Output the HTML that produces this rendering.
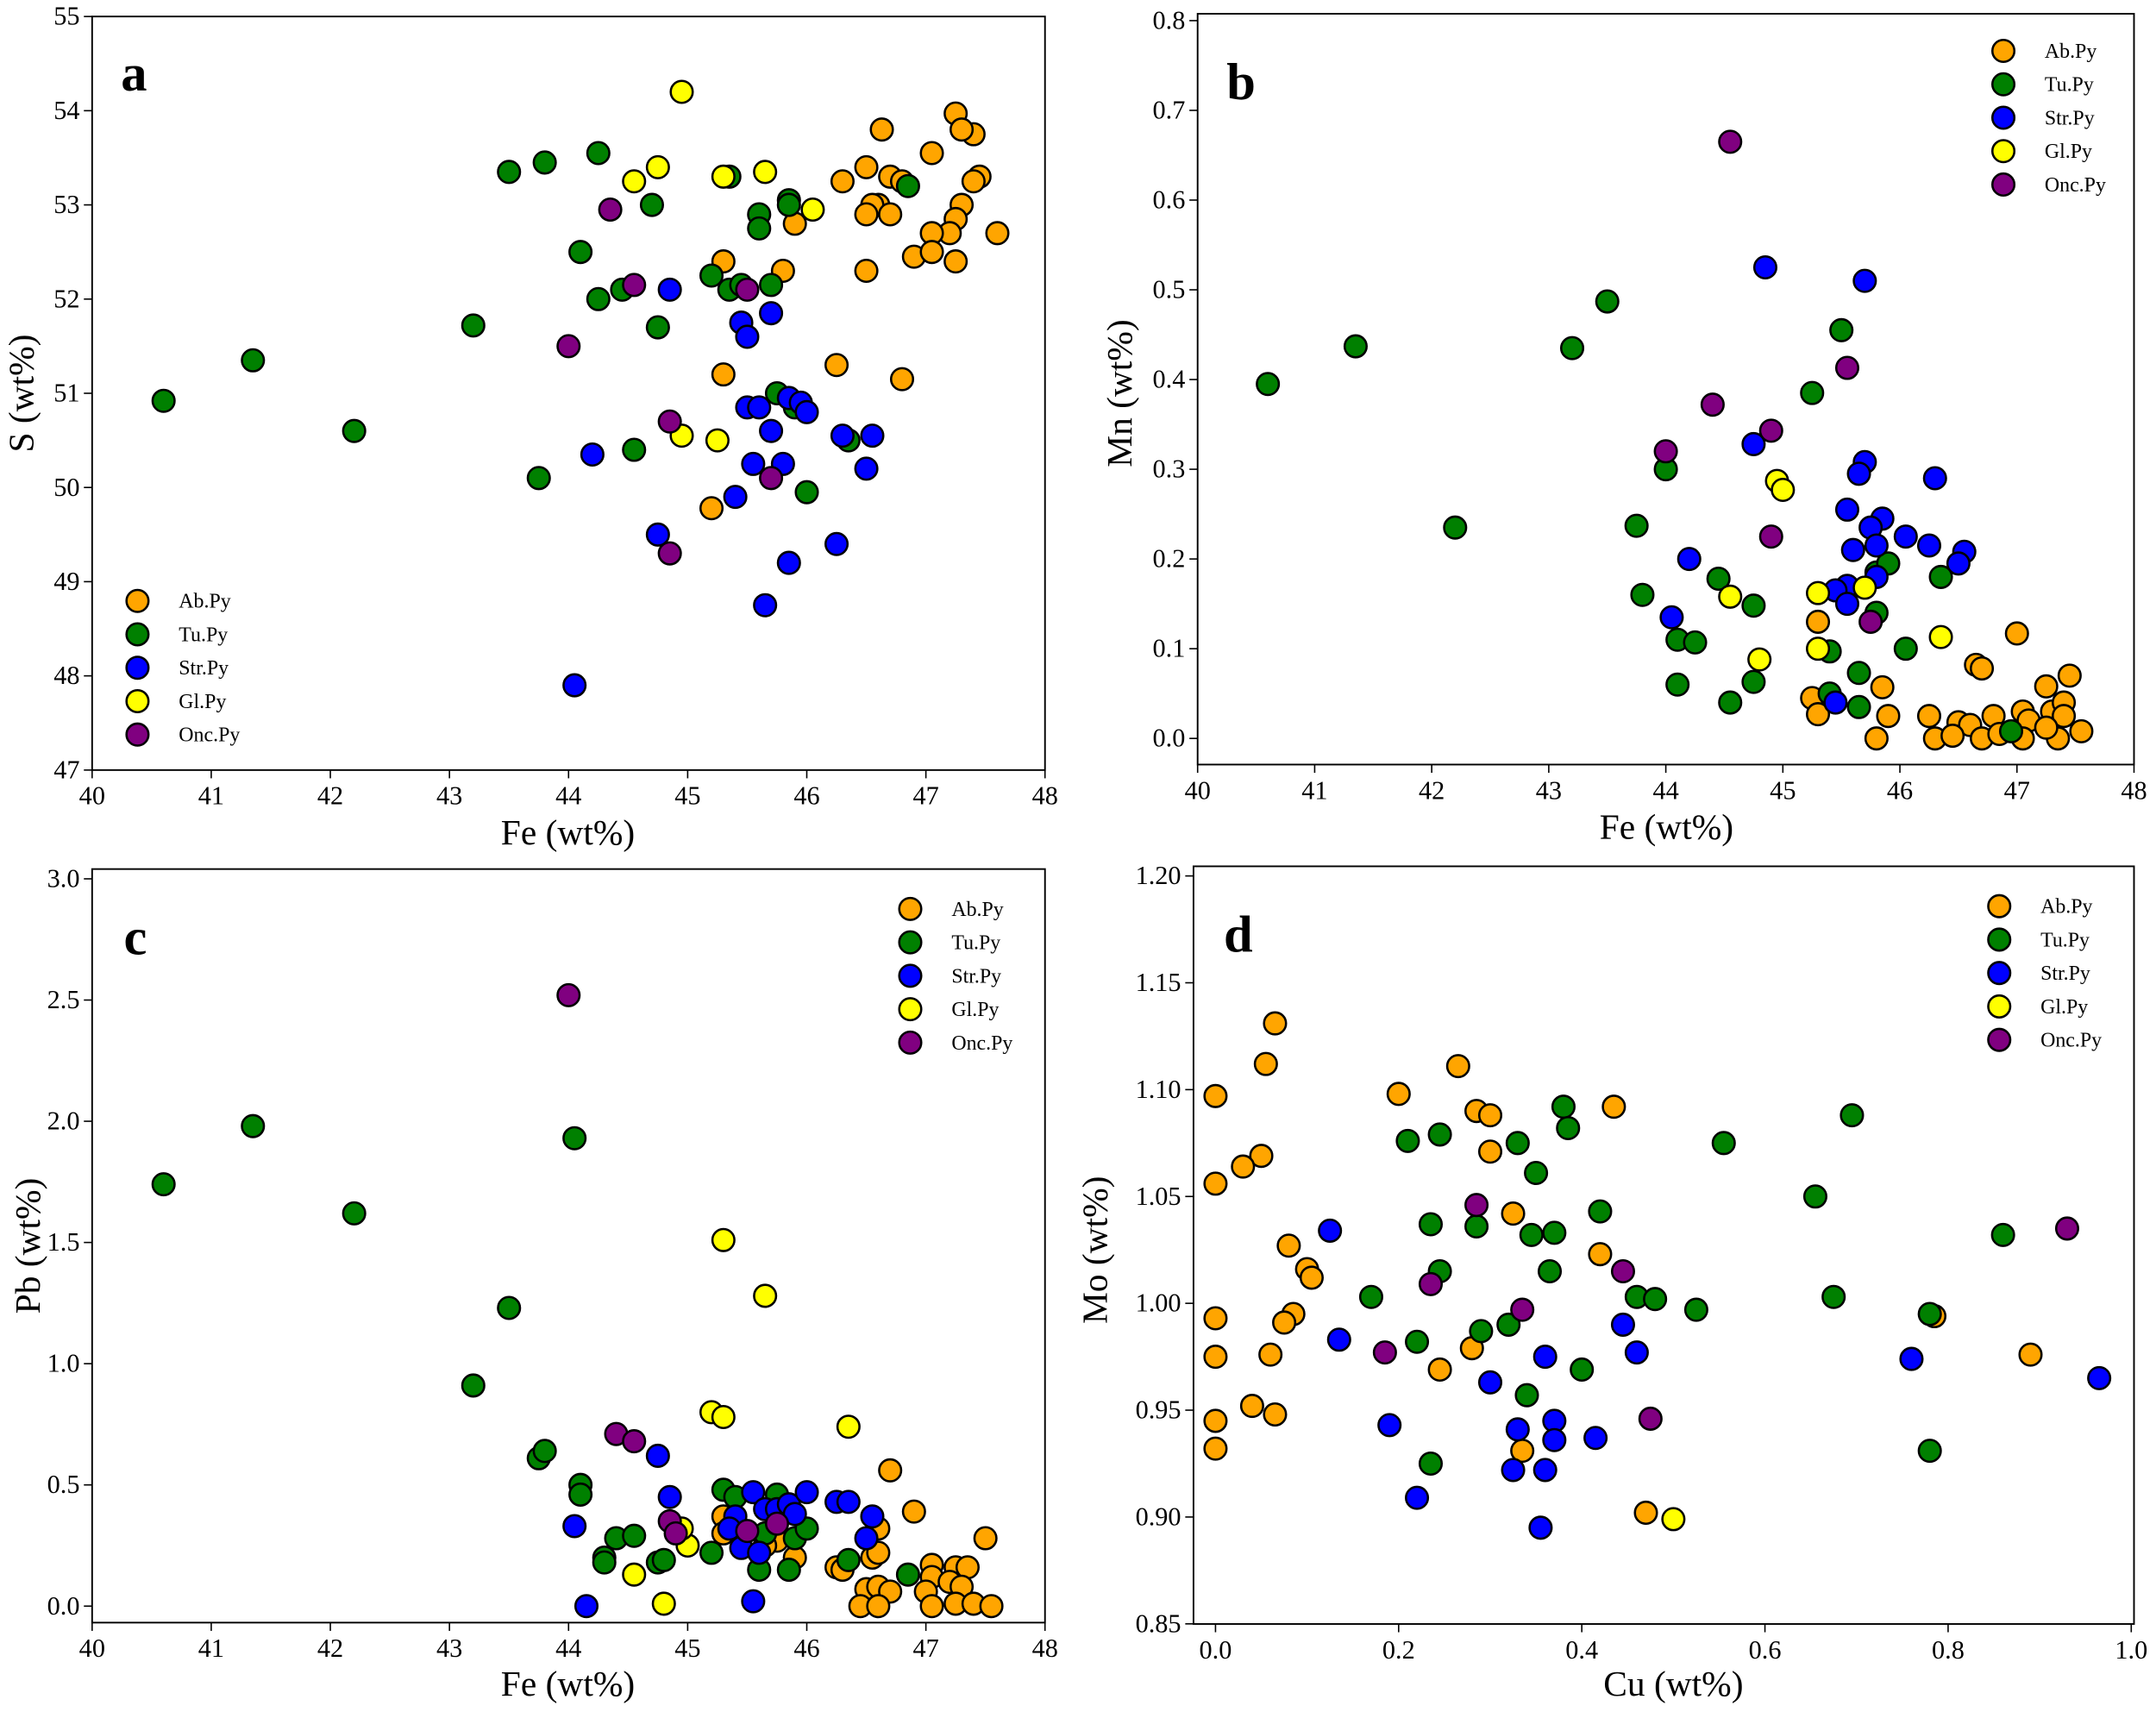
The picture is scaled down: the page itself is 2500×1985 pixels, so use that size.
<!DOCTYPE html>
<html><head><meta charset="utf-8">
<style>
html,body{margin:0;padding:0;background:#fff;}
svg{display:block;}
svg text{font-family:"Liberation Serif","DejaVu Serif",serif;fill:#000;}
</style></head>
<body>
<svg id="chart" width="2500" height="1985" viewBox="0 0 1568 1245" preserveAspectRatio="none" font-family="'Liberation Serif','DejaVu Serif',serif" xmlns="http://www.w3.org/2000/svg"></svg>
<script>
// ---- data ----
const seriesNames = ["Ab.Py","Tu.Py","Str.Py","Gl.Py","Onc.Py"];
const seriesColors = ["#FFA500","#008000","#0000FF","#FFFF00","#800080"];

const aAb = [[47.25,53.97],[46.63,53.8],[47.4,53.75],[47.05,53.55],[47.3,53.8],[46.5,53.4],[46.7,53.3],[46.8,53.25],[47.45,53.3],[47.4,53.25],[46.3,53.25],[46.6,53.0],[46.55,53.0],[46.7,52.9],[46.5,52.9],[47.3,53.0],[47.25,52.85],[47.2,52.7],[47.05,52.7],[47.6,52.7],[46.9,52.45],[47.05,52.5],[47.25,52.4],[45.9,52.8],[45.3,52.4],[45.8,52.3],[46.5,52.3],[46.25,51.3],[45.3,51.2],[46.8,51.15],[45.2,49.78]];
const aTu = [[40.6,50.92],[41.35,51.35],[42.2,50.6],[43.2,51.72],[43.5,53.35],[43.8,53.45],[44.25,53.55],[44.7,53.0],[44.1,52.5],[44.25,52.0],[44.45,52.1],[44.75,51.7],[45.2,52.25],[45.35,52.1],[45.45,52.15],[45.7,52.15],[45.35,53.3],[45.6,52.9],[45.6,52.75],[45.85,53.05],[45.85,53.0],[46.85,53.2],[45.75,51.0],[45.9,50.85],[46.0,49.95],[46.35,50.5],[44.55,50.4],[43.75,50.1]];
const aStr = [[44.85,52.1],[45.45,51.75],[45.5,51.6],[45.7,51.85],[45.5,50.85],[45.6,50.85],[45.85,50.95],[45.95,50.9],[46.0,50.8],[45.7,50.6],[46.3,50.55],[46.55,50.55],[45.55,50.25],[45.8,50.25],[46.5,50.2],[45.4,49.9],[44.75,49.5],[45.85,49.2],[46.25,49.4],[45.65,48.75],[44.2,50.35],[44.05,47.9]];
const aGl = [[44.95,54.2],[44.55,53.25],[44.75,53.4],[45.3,53.3],[45.65,53.35],[46.05,52.95],[44.95,50.55],[45.25,50.5]];
const aOnc = [[44.35,52.95],[44.55,52.15],[45.5,52.1],[44.0,51.5],[44.85,50.7],[45.7,50.1],[44.85,49.3]];

const bAb = [[47.0,0.117],[46.65,0.082],[46.7,0.078],[45.85,0.057],[47.25,0.058],[47.45,0.07],[45.25,0.045],[45.3,0.027],[45.9,0.025],[46.25,0.025],[46.3,0.0],[45.8,0.0],[46.5,0.018],[46.6,0.015],[46.8,0.025],[47.05,0.03],[47.1,0.02],[47.3,0.03],[47.4,0.04],[47.4,0.025],[47.55,0.008],[46.45,0.003],[46.7,0.0],[47.05,0.0],[47.35,0.0],[47.25,0.012],[46.85,0.005],[45.3,0.13]];
const bTu = [[40.6,0.395],[41.35,0.437],[42.2,0.235],[43.2,0.435],[43.5,0.487],[45.5,0.455],[45.25,0.385],[44.0,0.3],[43.75,0.237],[43.8,0.16],[44.1,0.11],[44.25,0.107],[44.1,0.06],[44.45,0.178],[44.75,0.148],[44.55,0.04],[44.75,0.063],[45.4,0.05],[45.4,0.097],[45.65,0.073],[45.65,0.035],[45.8,0.14],[45.8,0.185],[45.9,0.195],[46.05,0.1],[46.35,0.18],[46.95,0.008]];
const bStr = [[44.85,0.525],[45.7,0.51],[44.75,0.328],[45.7,0.308],[45.65,0.295],[46.3,0.29],[45.55,0.255],[45.85,0.245],[45.75,0.235],[46.05,0.225],[46.25,0.215],[45.8,0.215],[45.6,0.21],[46.55,0.208],[46.5,0.195],[45.8,0.18],[44.2,0.2],[44.05,0.135],[45.55,0.17],[45.45,0.165],[45.55,0.15],[45.45,0.04]];
const bGl = [[44.95,0.287],[45.0,0.277],[44.55,0.158],[45.3,0.162],[45.7,0.168],[45.3,0.1],[44.8,0.088],[46.35,0.113]];
const bOnc = [[44.55,0.665],[45.55,0.413],[44.4,0.372],[44.9,0.343],[44.0,0.32],[44.9,0.225],[45.75,0.13]];

const cAb = [[46.7,0.56],[46.9,0.39],[47.5,0.28],[46.6,0.32],[46.55,0.2],[46.6,0.22],[46.25,0.16],[46.3,0.15],[47.05,0.17],[47.05,0.12],[47.25,0.16],[47.35,0.16],[47.2,0.1],[47.3,0.08],[47.0,0.06],[46.5,0.07],[46.6,0.08],[46.7,0.06],[46.45,0.0],[46.6,0.0],[47.05,0.0],[47.25,0.01],[47.4,0.01],[47.55,0.0],[45.3,0.37],[45.75,0.27],[45.65,0.25],[45.9,0.2],[45.3,0.3]];
const cTu = [[40.6,1.74],[41.35,1.98],[42.2,1.62],[43.5,1.23],[43.2,0.91],[43.75,0.61],[43.8,0.64],[44.05,1.93],[44.1,0.5],[44.1,0.46],[44.3,0.2],[44.3,0.18],[44.4,0.28],[44.55,0.29],[44.75,0.18],[44.8,0.19],[45.2,0.22],[45.3,0.48],[45.4,0.45],[45.6,0.15],[45.75,0.46],[45.85,0.15],[45.9,0.28],[46.0,0.32],[46.35,0.19],[46.85,0.13],[45.65,0.3]];
const cStr = [[44.75,0.62],[44.85,0.45],[44.05,0.33],[44.15,0.0],[45.4,0.37],[45.55,0.47],[45.65,0.4],[45.75,0.4],[45.85,0.42],[45.9,0.38],[45.45,0.24],[45.6,0.22],[46.0,0.47],[46.25,0.43],[46.35,0.43],[46.5,0.28],[46.55,0.37],[45.55,0.02],[45.35,0.32]];
const cGl = [[45.3,1.51],[45.65,1.28],[45.2,0.8],[45.3,0.78],[46.35,0.74],[45.0,0.25],[44.55,0.13],[44.8,0.01],[44.95,0.32]];
const cOnc = [[44.0,2.52],[44.4,0.71],[44.55,0.68],[44.85,0.35],[44.9,0.3],[45.5,0.31],[45.75,0.34]];

const dAb = [[0.0,1.097],[0.055,1.112],[0.065,1.131],[0.05,1.069],[0.03,1.064],[0.0,1.056],[0.08,1.027],[0.1,1.016],[0.105,1.012],[0.085,0.995],[0.075,0.991],[0.06,0.976],[0.0,0.993],[0.0,0.975],[0.0,0.945],[0.0,0.932],[0.04,0.952],[0.065,0.948],[0.2,1.098],[0.265,1.111],[0.285,1.09],[0.3,1.088],[0.3,1.071],[0.325,1.042],[0.435,1.092],[0.42,1.023],[0.28,0.979],[0.245,0.969],[0.335,0.931],[0.47,0.902],[0.785,0.994],[0.89,0.976]];
const dTu = [[0.38,1.092],[0.385,1.082],[0.245,1.079],[0.21,1.076],[0.33,1.075],[0.35,1.061],[0.235,1.037],[0.285,1.036],[0.345,1.032],[0.37,1.033],[0.42,1.043],[0.245,1.015],[0.365,1.015],[0.17,1.003],[0.22,0.982],[0.29,0.987],[0.32,0.99],[0.46,1.003],[0.48,1.002],[0.525,0.997],[0.4,0.969],[0.34,0.957],[0.235,0.925],[0.555,1.075],[0.655,1.05],[0.695,1.088],[0.675,1.003],[0.78,0.995],[0.78,0.931],[0.86,1.032]];
const dStr = [[0.125,1.034],[0.135,0.983],[0.19,0.943],[0.3,0.963],[0.36,0.975],[0.46,0.977],[0.445,0.99],[0.33,0.941],[0.37,0.945],[0.37,0.936],[0.415,0.937],[0.325,0.922],[0.36,0.922],[0.22,0.909],[0.355,0.895],[0.76,0.974],[0.965,0.965]];
const dGl = [[0.5,0.899]];
const dOnc = [[0.285,1.046],[0.235,1.009],[0.335,0.997],[0.445,1.015],[0.185,0.977],[0.475,0.946],[0.93,1.035]];

const feTicks = [40,41,42,43,44,45,46,47,48];
const aYTicks = [47,48,49,50,51,52,53,54,55];
const bYTicks = ["0.0","0.1","0.2","0.3","0.4","0.5","0.6","0.7","0.8"];
const cYTicks = ["0.0","0.5","1.0","1.5","2.0","2.5","3.0"];
const dYTicks = ["0.85","0.90","0.95","1.00","1.05","1.10","1.15","1.20"];
const dXTicks = ["0.0","0.2","0.4","0.6","0.8","1.0"];

// ---- drawing ----
const NS="http://www.w3.org/2000/svg";
const svg=document.getElementById('chart');
const FONT="'Liberation Serif','DejaVu Serif',serif";
function mk(tag,attrs,parent){const e=document.createElementNS(NS,tag);for(const k in attrs)e.setAttribute(k,attrs[k]);if(tag==='text')e.setAttribute('font-family',FONT);(parent||svg).appendChild(e);return e;}

const panels=[
 {id:'a',box:[67,12,760,560],x:v=>67+(v-40)*86.625,y:v=>12+(55-v)*68.5,xt:feTicks,yt:aYTicks,data:[aAb,aTu,aStr,aGl,aOnc],
  xl:'Fe (wt%)',yl:'S (wt%)',xlPos:[413,614],ylPos:[24,286],letter:[88,66],leg:[100,130,437]},
 {id:'b',box:[871,10,1552,556],x:v=>871+(v-40)*85.125,y:v=>537-v*652.5,xt:feTicks,yt:bYTicks,data:[bAb,bTu,bStr,bGl,bOnc],
  xl:'Fe (wt%)',yl:'Mn (wt%)',xlPos:[1212,610],ylPos:[823,286],letter:[892,72],leg:[1457,1487,37]},
 {id:'c',box:[67,632,760,1180],x:v=>67+(v-40)*86.625,y:v=>1168-v*176.3,xt:feTicks,yt:cYTicks,data:[cAb,cTu,cStr,cGl,cOnc],
  xl:'Fe (wt%)',yl:'Pb (wt%)',xlPos:[413,1233],ylPos:[29,906],letter:[90,694],leg:[662,692,661]},
 {id:'d',box:[868,630,1552,1181],x:v=>884+v*666,y:v=>637+(1.20-v)*1554,xt:dXTicks,yt:dYTicks,data:[dAb,dTu,dStr,dGl,dOnc],
  xl:'Cu (wt%)',yl:'Mo (wt%)',xlPos:[1217,1233],ylPos:[805,909],letter:[890,692],leg:[1454,1484,659]}
];

panels.forEach(p=>{
  const g=mk('g',{});
  
  
  const [x0,y0,x1,y1]=p.box;
  p.xt.forEach(t=>{
    const X=p.x(parseFloat(t));
    const l=mk('line',{x1:X,x2:X,y1:y1,y2:y1+6,stroke:'#000','stroke-width':1},g);
     
    const tx=mk('text',{x:X,y:y1+25,'text-anchor':'middle','font-size':19},g);
     
    tx.textContent=t;
  });
  p.yt.forEach(t=>{
    const Y=p.y(parseFloat(t));
    const l=mk('line',{x1:x0-6,x2:x0,y1:Y,y2:Y,stroke:'#000','stroke-width':1},g);
     
    const tx=mk('text',{x:x0-9,y:Y+6,'text-anchor':'end','font-size':19},g);
     
    tx.textContent=t;
  });
  p.data.forEach((arr,si)=>{
    const sg=mk('g',{},g);
    
    
    arr.forEach(d=>{
      const c=mk('circle',{cx:p.x(d[0]),cy:p.y(d[1]),r:8,fill:seriesColors[si],stroke:'#000','stroke-width':1.6},sg);
      
      
    });
  });
  const fr=mk('rect',{x:x0,y:y0,width:x1-x0,height:y1-y0,fill:'none',stroke:'#000','stroke-width':1.2},g);
   
  const xl=mk('text',{x:p.xlPos[0],y:p.xlPos[1],'text-anchor':'middle','font-size':26},g);
   
  xl.textContent=p.xl;
  const yl=mk('text',{x:p.ylPos[0],y:p.ylPos[1],'text-anchor':'middle','font-size':26,transform:`rotate(-90 ${p.ylPos[0]} ${p.ylPos[1]})`},g);
   
  yl.textContent=p.yl;
  const lt=mk('text',{x:p.letter[0],y:p.letter[1],'font-size':38,'font-weight':'bold'},g);
   
  lt.textContent=p.id;
  const lg=mk('g',{},g);
   
  seriesNames.forEach((n,i)=>{
    const Y=p.leg[2]+i*24.3;
    const e=mk('g',{},lg);
     
    mk('circle',{cx:p.leg[0],cy:Y,r:8,fill:seriesColors[i],stroke:'#000','stroke-width':1.6},e);
    const t=mk('text',{x:p.leg[1],y:Y+5,'font-size':15},e);
    t.textContent=n;
  });
});
</script>
</body></html>
